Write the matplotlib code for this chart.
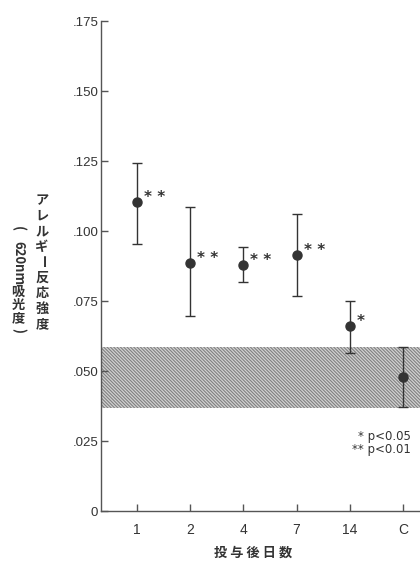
import matplotlib

matplotlib.use("Agg")
import matplotlib.pyplot as plt
import numpy as np

# data
days = ["1", "2", "4", "7", "14", "C"]
means = [0.1103, 0.0887, 0.0877, 0.0913, 0.0660, 0.0480]
err_hi = [0.1244, 0.1087, 0.0943, 0.1061, 0.0751, 0.0587]
err_lo = [0.0952, 0.0696, 0.0817, 0.0768, 0.0563, 0.0372]
signif = ["**", "**", "**", "**", "*", ""]
control_band = (0.0367, 0.0585)

yticks = [0, 0.025, 0.050, 0.075, 0.100, 0.125, 0.150, 0.175]
ytick_labels = ["0", ".025", ".050", ".075", ".100", ".125", ".150", ".175"]

W, H = 420, 565
INK = "#333333"
JP = ["Noto Sans CJK JP", "DejaVu Sans"]

plt.rcParams["hatch.linewidth"] = 0.8
plt.rcParams["hatch.color"] = "#808080"

fig = plt.figure(figsize=(W / 100, H / 100), dpi=100)
ax = fig.add_axes([101 / W, 1 - 511 / H, 1 - 101 / W, (511 - 21) / H])

x = np.arange(len(days))
ax.set_xlim(-0.677, 5.32)
ax.set_ylim(0, 0.175)

# control mean +- SD band
ax.axhspan(*control_band, facecolor="#d2d2d2", edgecolor="#808080",
           hatch="\\" * 10, linewidth=0, zorder=1)

m = np.array(means)
yerr = [m - np.array(err_lo), np.array(err_hi) - m]
ax.errorbar(x, m, yerr=yerr, fmt="o", color=INK, ecolor=INK, markersize=6.5,
            elinewidth=1, capsize=3.5, capthick=1, zorder=3)

for xi, yi, s in zip(x, means, signif):
    if s:
        ax.annotate(s.replace("**", "* *"), (xi, yi), xytext=(5, 0),
                    textcoords="offset points", ha="left", va="baseline",
                    fontsize=11, fontweight="bold", color=INK, family="DejaVu Sans")

ax.set_xticks(x)
ax.set_xticklabels(days, fontsize=10, color=INK, family="Liberation Sans")
ax.set_yticks(yticks)
ax.set_yticklabels(ytick_labels, fontsize=9.5, color=INK, family="Liberation Sans")
ax.tick_params(axis="both", direction="in", length=5, width=1, colors="#555555")
ax.tick_params(axis="x", pad=9, labelcolor=INK)
ax.tick_params(axis="y", pad=2, labelcolor=INK)

for side in ["top", "right"]:
    ax.spines[side].set_visible(False)
for side in ["left", "bottom"]:
    ax.spines[side].set_color("#555555")
    ax.spines[side].set_linewidth(1)

ax.text(0.97, 0.165, "* p<0.05\n** p<0.01", transform=ax.transAxes,
        ha="right", va="top", multialignment="right", fontsize=8.5,
        color=INK, family="DejaVu Sans", linespacing=0.95)

# x label
fig.text(253 / W, 1 - 553 / H, "投 与 後 日 数", ha="center", va="center",
         fontsize=9.5, fontweight="bold", color=INK, family=JP)


def vtext(xp, pieces):
    # stack characters top-to-bottom like vertical Japanese writing
    for txt, yp, rot in pieces:
        fig.text(xp / W, 1 - yp / H, txt, ha="center", va="center",
                 rotation=rot, fontsize=9.5, fontweight="bold", color=INK, family=JP)


right_col = "アレルギー反応強度"
vtext(42, [(c, 200 + 15.5 * i, -90 if c == "ー" else 0)
           for i, c in enumerate(right_col)])
vtext(18, [("(", 229, -90), ("620", 253, -90), ("nm", 275, -90),
           ("吸", 292, 0), ("光", 305, 0), ("度", 318, 0), (")", 331, -90)])

fig.savefig("out.png", dpi=100)
